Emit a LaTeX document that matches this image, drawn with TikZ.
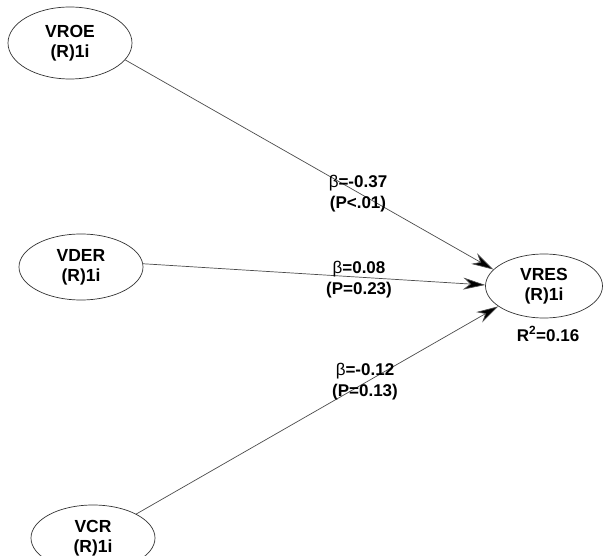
\documentclass[tikz,border=0pt]{standalone}
\usepackage{fontspec}
\setmainfont{Liberation Sans}
\usetikzlibrary{shapes.geometric,arrows.meta}
\begin{document}
\begin{tikzpicture}[x=1pt,y=-1pt,
  lv/.style={ellipse,draw=black!80,line width=0.7pt,inner sep=0pt,align=center,
    minimum width=124pt,font=\fontsize{17.5}{20}\selectfont\bfseries},
  conn/.style={draw=black!70,line width=0.7pt,-{Stealth[length=22pt,width=12pt,inset=7pt,fill=black]}},
  coef/.style={font=\fontsize{17}{21}\selectfont\bfseries,align=center,inner sep=0pt}]
\useasboundingbox (0,0) rectangle (603,556);
\fill[white] (0,0) rectangle (603,556);
\clip (0,0) rectangle (603,556);
\node[lv,minimum height=72pt] (vroe) at (70,43) {VROE\\(R)1i};
\node[lv,minimum height=66pt] (vder) at (81,267) {VDER\\(R)1i};
\node[lv,minimum height=66pt] (vcr) at (93,538) {VCR\\(R)1i};
\node[lv,minimum width=117pt,minimum height=64pt] (vres) at (544,286) {VRES\\(R)1i};
\node[coef] (r2) at (548,334) {R\textsuperscript{2}=0.16};
\draw[conn] (vroe.-17) -- (vres.162);
\draw[conn] (vder.3) -- (vres.179);
\draw[conn] (vcr.29) -- (vres.-156);
\node[coef] (c1) at (358,194) {{\mdseries β}=-0.37\\(P<.01)};
\node[coef] (c2) at (359,280) {{\mdseries β}=0.08\\(P=0.23)};
\node[coef] (c3) at (365,382) {{\mdseries β}=-0.12\\(P=0.13)};
\end{tikzpicture}
\end{document}
